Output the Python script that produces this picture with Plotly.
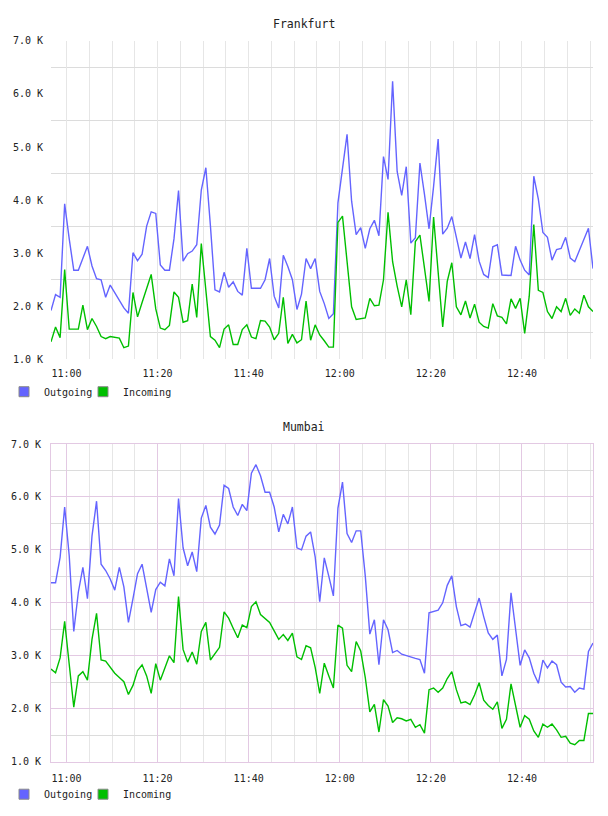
import plotly.graph_objects as go
from datetime import datetime, timedelta

# ---------------- data ----------------
start_time = datetime(2024, 1, 1, 10, 56, 36)
n_points = 120
times = [start_time + timedelta(minutes=i) for i in range(n_points)]

fra_out = [1.92, 2.22, 2.17, 3.93, 3.27, 2.68, 2.68, 2.91, 3.13, 2.76,
           2.52, 2.50, 2.17, 2.40, 2.25, 2.11, 1.97, 1.87, 3.01, 2.86,
           2.98, 3.51, 3.78, 3.75, 2.78, 2.68, 2.68, 3.27, 4.18, 2.85,
           2.99, 3.04, 3.16, 4.19, 4.61, 3.52, 2.31, 2.27, 2.64, 2.36,
           2.46, 2.28, 2.21, 3.09, 2.34, 2.34, 2.34, 2.50, 2.90, 2.19,
           1.97, 2.96, 2.75, 2.50, 1.94, 2.23, 2.90, 2.71, 2.90, 2.28,
           2.05, 1.77, 1.86, 3.95, 4.57, 5.24, 3.98, 3.35, 3.48, 3.09,
           3.46, 3.62, 3.33, 4.82, 4.39, 6.24, 4.54, 4.09, 4.63, 3.19,
           3.29, 4.70, 4.11, 3.46, 4.26, 5.15, 3.36, 3.47, 3.69, 3.30,
           2.91, 3.21, 2.90, 3.35, 2.85, 2.60, 2.54, 3.12, 3.16, 2.59,
           2.59, 2.58, 3.13, 2.87, 2.68, 2.59, 4.45, 4.02, 3.39, 3.30,
           2.87, 3.07, 3.09, 3.30, 2.91, 2.84, 3.05, 3.27, 3.47, 2.71]

fra_in = [1.33, 1.61, 1.41, 2.69, 1.57, 1.57, 1.57, 2.02, 1.56, 1.77,
          1.62, 1.43, 1.39, 1.43, 1.41, 1.40, 1.22, 1.25, 2.26, 1.80,
          2.07, 2.35, 2.60, 1.95, 1.59, 1.56, 1.64, 2.27, 2.17, 1.70,
          1.73, 2.42, 1.79, 3.18, 2.30, 1.43, 1.36, 1.22, 1.57, 1.65,
          1.28, 1.28, 1.56, 1.65, 1.42, 1.39, 1.73, 1.72, 1.61, 1.37,
          1.49, 2.17, 1.30, 1.47, 1.31, 1.37, 2.10, 1.36, 1.65, 1.46,
          1.35, 1.23, 1.23, 3.58, 3.70, 2.84, 1.99, 1.75, 1.76, 1.78,
          2.15, 2.01, 2.02, 2.50, 3.77, 2.84, 2.38, 1.99, 2.50, 1.84,
          3.22, 3.34, 2.72, 2.09, 3.68, 2.66, 1.61, 2.47, 2.82, 1.99,
          1.84, 2.10, 1.78, 2.04, 1.70, 1.62, 1.59, 2.05, 1.82, 1.79,
          1.67, 2.14, 1.96, 2.15, 1.49, 2.19, 3.54, 2.30, 2.26, 1.90,
          1.77, 1.99, 1.90, 2.15, 1.83, 1.95, 1.87, 2.21, 1.99, 1.90]

mum_out = [4.38, 4.38, 4.86, 5.81, 4.89, 3.46, 4.20, 4.67, 4.08, 5.26,
           5.92, 4.73, 4.61, 4.45, 4.24, 4.67, 4.30, 3.63, 4.08, 4.55,
           4.73, 4.27, 3.82, 4.25, 4.39, 4.32, 4.83, 4.51, 5.97, 5.04,
           4.70, 4.96, 4.59, 5.60, 5.84, 5.43, 5.30, 5.47, 6.22, 6.16,
           5.81, 5.65, 5.86, 5.74, 6.45, 6.61, 6.40, 6.09, 6.09, 5.81,
           5.34, 5.67, 5.49, 5.81, 5.04, 5.00, 5.26, 5.34, 4.87, 4.02,
           4.85, 4.50, 4.13, 5.79, 6.28, 5.31, 5.14, 5.36, 5.36, 4.51,
           3.41, 3.68, 2.83, 3.68, 3.49, 3.06, 3.10, 3.03, 3.00, 2.98,
           2.95, 2.93, 2.67, 3.81, 3.83, 3.86, 4.00, 4.33, 4.51, 3.93,
           3.57, 3.60, 3.54, 3.81, 4.09, 3.74, 3.43, 3.31, 3.39, 2.62,
           2.93, 4.19, 3.55, 2.82, 3.11, 2.96, 2.67, 2.48, 2.92, 2.77,
           2.90, 2.83, 2.50, 2.41, 2.42, 2.31, 2.39, 2.37, 3.08, 3.24]

mum_in = [2.75, 2.68, 2.96, 3.65, 2.84, 2.03, 2.62, 2.70, 2.54, 3.31,
          3.80, 2.92, 2.90, 2.78, 2.67, 2.59, 2.51, 2.27, 2.44, 2.72,
          2.83, 2.62, 2.29, 2.85, 2.54, 2.77, 3.00, 2.87, 4.12, 3.12,
          2.88, 3.07, 2.84, 3.46, 3.63, 2.92, 3.04, 3.16, 3.83, 3.71,
          3.52, 3.34, 3.58, 3.53, 3.93, 4.02, 3.78, 3.70, 3.63, 3.47,
          3.31, 3.40, 3.29, 3.43, 2.98, 2.93, 3.19, 3.15, 2.78, 2.29,
          2.86, 2.62, 2.39, 3.58, 3.52, 2.82, 2.70, 3.27, 3.09, 2.59,
          1.94, 2.08, 1.56, 2.17, 2.05, 1.74, 1.83, 1.81, 1.77, 1.80,
          1.65, 1.70, 1.54, 2.36, 2.39, 2.31, 2.39, 2.57, 2.70, 2.36,
          2.11, 2.13, 2.08, 2.26, 2.49, 2.16, 2.06, 1.99, 2.13, 1.63,
          1.80, 2.47, 2.05, 1.65, 1.87, 1.80, 1.58, 1.46, 1.71, 1.65,
          1.71, 1.60, 1.46, 1.48, 1.35, 1.32, 1.40, 1.40, 1.91, 1.91]

titles = ["Frankfurt", "Mumbai"]
series_names = ["Outgoing", "Incoming"]
y_tickvals = [1, 2, 3, 4, 5, 6, 7]
y_ticktext = ["1.0 K", "2.0 K", "3.0 K", "4.0 K", "5.0 K", "6.0 K", "7.0 K"]
y_minorvals = [1.5, 2.5, 3.5, 4.5, 5.5, 6.5]

# ---------------- style ----------------
W, H = 608, 816
BLUE = "#6464ff"
GREEN = "#00bf00"
GRAY_H = "#dcdcdc"
GRAY_V = "#e6e6e6"
PINK = "#e3c9e3"
MONO = "DejaVu Sans Mono"
TXT = "#222222"

x_dom = [51 / W, 593 / W]
dom_fra = [1 - 359.2 / H, 1 - 36.4 / H]
dom_mum = [1 - 767 / H, 1 - 445 / H]

fig = go.Figure()

panels = [
    (fra_out, fra_in, "x", "y", ["legend", "legend3"]),
    (mum_out, mum_in, "x2", "y2", ["legend2", "legend4"]),
]
for out_vals, in_vals, xa, ya, lgs in panels:
    fig.add_trace(go.Scatter(x=times, y=out_vals, mode="lines",
                             line=dict(color=BLUE, width=1.4),
                             xaxis=xa, yaxis=ya, showlegend=False))
    fig.add_trace(go.Scatter(x=times, y=in_vals, mode="lines",
                             line=dict(color=GREEN, width=1.4),
                             xaxis=xa, yaxis=ya, showlegend=False))
    for name, col, lg in zip(series_names, [BLUE, GREEN], lgs):
        fig.add_trace(go.Scatter(x=[None], y=[None], mode="markers", name=name,
                                 marker=dict(symbol="square", size=10, color=col,
                                             line=dict(color="#8a8a8a", width=1)),
                                 xaxis=xa, yaxis=ya, legend=lg, showlegend=True))

x_common = dict(type="date", range=[times[0], times[-1]], domain=x_dom,
                tickformat="%H:%M", tick0="2024-01-01 11:00:00", dtick=1200000,
                ticks="", ticklabelstandoff=7, zeroline=False,
                tickfont=dict(family=MONO, size=10, color=TXT))
y_common = dict(range=[1, 7], tickmode="array", tickvals=y_tickvals,
                ticktext=y_ticktext, ticks="", ticklabelstandoff=7, zeroline=False,
                tickfont=dict(family=MONO, size=10, color=TXT))


def legend_at(px_x, px_y):
    return dict(orientation="h", x=px_x / W, y=1 - px_y / H, xanchor="left",
                yanchor="middle", bgcolor="rgba(0,0,0,0)",
                font=dict(family=MONO, size=10, color=TXT))


fig.update_layout(
    width=W, height=H, margin=dict(l=0, r=0, t=0, b=0),
    paper_bgcolor="white", plot_bgcolor="white",
    xaxis=dict(**x_common, anchor="y", showgrid=True, gridcolor=GRAY_V,
               minor=dict(dtick=300000, tick0="2024-01-01 11:00:00",
                          showgrid=True, gridcolor=GRAY_V, ticks="")),
    yaxis=dict(**y_common, domain=dom_fra, anchor="x", showgrid=False,
               minor=dict(tickmode="array", tickvals=y_minorvals, showgrid=True,
                          gridcolor=GRAY_H, ticks="")),
    xaxis2=dict(**x_common, anchor="y2", showgrid=True, gridcolor=PINK,
                showline=True, linecolor=PINK, mirror=True,
                minor=dict(dtick=300000, tick0="2024-01-01 11:00:00",
                           showgrid=True, gridcolor=GRAY_V, ticks="")),
    yaxis2=dict(**y_common, domain=dom_mum, anchor="x2", showgrid=True,
                gridcolor=PINK, showline=True, linecolor=PINK, mirror=True,
                minor=dict(tickmode="array", tickvals=y_minorvals, showgrid=True,
                           gridcolor=GRAY_H, ticks="")),
    legend=legend_at(4, 392),
    legend3=legend_at(83, 392),
    legend2=legend_at(4, 800),
    legend4=legend_at(83, 800),
    annotations=[
        dict(text=titles[0], x=0.5, y=1 - 19 / H, xref="paper", yref="paper",
             showarrow=False, xanchor="center", yanchor="middle",
             font=dict(family=MONO, size=11.5, color=TXT)),
        dict(text=titles[1], x=0.5, y=1 - 428 / H, xref="paper", yref="paper",
             showarrow=False, xanchor="center", yanchor="middle",
             font=dict(family=MONO, size=11.5, color=TXT)),
    ],
)

fig.write_html("out.html")
